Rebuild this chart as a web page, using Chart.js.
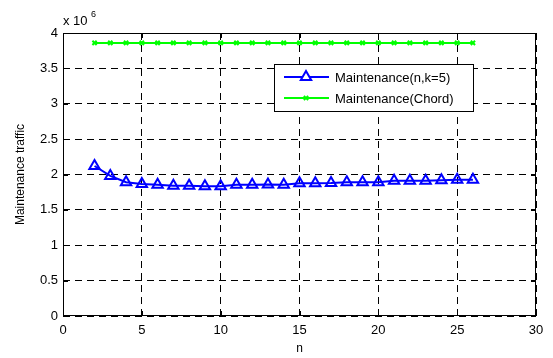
<!DOCTYPE html>
<html>
<head>
<meta charset="utf-8">
<script src="https://cdn.jsdelivr.net/npm/chart.js@4/dist/chart.umd.min.js"></script>
<style>
  html, body { margin: 0; padding: 0; background: #fff; }
  #wrap { width: 553px; height: 358px; }
</style>
</head>
<body>
<div id="wrap"><canvas id="chart" width="553" height="358"></canvas></div>
<script>
// n values and the two series (traffic, in messages)
const nValues = [2, 3, 4, 5, 6, 7, 8, 9, 10, 11, 12, 13, 14, 15, 16, 17, 18, 19, 20, 21, 22, 23, 24, 25, 26];
const maintKs = [2.12e6, 1.98e6, 1.89e6, 1.865e6, 1.855e6, 1.84e6, 1.84e6, 1.835e6, 1.835e6, 1.855e6, 1.855e6, 1.86e6, 1.855e6,
                 1.875e6, 1.875e6, 1.88e6, 1.89e6, 1.89e6, 1.89e6, 1.91e6, 1.91e6, 1.91e6, 1.92e6, 1.925e6, 1.925e6];
const maintChord = [3.86e6, 3.86e6, 3.86e6, 3.86e6, 3.86e6, 3.86e6, 3.86e6, 3.86e6, 3.86e6, 3.86e6, 3.86e6, 3.86e6, 3.86e6,
                    3.86e6, 3.86e6, 3.86e6, 3.86e6, 3.86e6, 3.86e6, 3.86e6, 3.86e6, 3.86e6, 3.86e6, 3.86e6, 3.86e6];
const xTicks = [0, 5, 10, 15, 20, 25, 30];
const yTicks = [0, 0.5e6, 1e6, 1.5e6, 2e6, 2.5e6, 3e6, 3.5e6, 4e6];

const FONT = 'Liberation Sans, Arial, Helvetica, sans-serif';

// box, inward ticks, x10^6 label and the legend in the upper right
const matlabFrame = {
    id: 'matlabFrame',
    afterDatasetsDraw(chart) {
        const ctx = chart.ctx;
        const a = chart.chartArea;
        const xs = chart.scales.x, ys = chart.scales.y;
        ctx.save();
        ctx.strokeStyle = '#000';
        ctx.lineWidth = 1;
        ctx.setLineDash([]);
        ctx.strokeRect(a.left + 0.5, a.top + 0.5, a.right - a.left - 1, a.bottom - a.top - 1);
        ctx.beginPath();
        xTicks.forEach(v => {
            const px = Math.round(xs.getPixelForValue(v)) + 0.5;
            ctx.moveTo(px, a.bottom); ctx.lineTo(px, a.bottom - 5);
            ctx.moveTo(px, a.top); ctx.lineTo(px, a.top + 5);
        });
        yTicks.forEach(v => {
            const py = Math.round(ys.getPixelForValue(v)) + 0.5;
            ctx.moveTo(a.left, py); ctx.lineTo(a.left + 5, py);
            ctx.moveTo(a.right, py); ctx.lineTo(a.right - 5, py);
        });
        ctx.stroke();

        // exponent label
        ctx.fillStyle = '#000';
        ctx.font = '13px ' + FONT;
        ctx.textBaseline = 'alphabetic';
        ctx.fillText('x 10', 63, 25);
        ctx.font = '9px ' + FONT;
        ctx.fillText('6', 91, 17);

        // legend
        const lx = 274, ly = 64, lw = 199, lh = 47;
        ctx.fillStyle = '#fff';
        ctx.fillRect(lx, ly, lw, lh);
        ctx.strokeStyle = '#000';
        ctx.strokeRect(lx + 0.5, ly + 0.5, lw, lh);
        chart.data.datasets.forEach((ds, i) => {
            const cy = ly + 13 + i * 21;
            ctx.strokeStyle = ds.borderColor;
            ctx.lineWidth = 2;
            ctx.beginPath();
            ctx.moveTo(lx + 10, cy); ctx.lineTo(lx + 55, cy);
            ctx.stroke();
            Chart.helpers.drawPoint(ctx, {
                pointStyle: ds.pointStyle, radius: ds.pointRadius,
                borderWidth: ds.borderWidth
            }, lx + 32, cy);
            ctx.fillStyle = '#000';
            ctx.font = '13px ' + FONT;
            ctx.textBaseline = 'middle';
            ctx.fillText(ds.label, lx + 61, cy + 1);
        });
        ctx.restore();
    }
};

new Chart(document.getElementById('chart'), {
    type: 'line',
    data: {
        datasets: [
            {
                label: 'Maintenance(n,k=5)',
                data: nValues.map((n, i) => ({x: n, y: maintKs[i]})),
                borderColor: '#0000ff',
                backgroundColor: 'rgba(0,0,0,0)',
                borderWidth: 2,
                pointStyle: 'triangle',
                pointRadius: 6,
                pointBorderWidth: 2,
                tension: 0
            },
            {
                label: 'Maintenance(Chord)',
                data: nValues.map((n, i) => ({x: n, y: maintChord[i]})),
                borderColor: '#00ff00',
                backgroundColor: 'rgba(0,0,0,0)',
                borderWidth: 2,
                pointStyle: 'crossRot',
                pointRadius: 3,
                pointBorderWidth: 2,
                tension: 0
            }
        ]
    },
    options: {
        responsive: false,
        animation: false,
        layout: { padding: { left: 0, right: 17, top: 33, bottom: 0 } },
        plugins: { legend: { display: false }, tooltip: { enabled: false } },
        scales: {
            x: {
                type: 'linear', min: 0, max: 30,
                afterBuildTicks: s => { s.ticks = xTicks.map(v => ({value: v})); },
                afterFit: s => { s.height = 42; },
                grid: { color: '#000', lineWidth: 1, drawTicks: false },
                border: { display: false, dash: [7, 5] },
                ticks: { color: '#000', font: { size: 13, family: FONT }, padding: 7, maxRotation: 0 },
                title: { display: true, text: 'n', color: '#000', font: { size: 12, family: FONT }, padding: { top: 0, bottom: 2 } }
            },
            y: {
                min: 0, max: 4e6,
                afterBuildTicks: s => { s.ticks = yTicks.map(v => ({value: v})); },
                afterFit: s => { s.width = 63; },
                grid: { color: '#000', lineWidth: 1, drawTicks: false },
                border: { display: false, dash: [7, 5] },
                ticks: { color: '#000', font: { size: 13, family: FONT }, padding: 5,
                         callback: v => String(v / 1e6) },
                title: { display: true, text: 'Maintenance traffic', color: '#000', font: { size: 12, family: FONT }, padding: { top: 13, bottom: 4 } }
            }
        }
    },
    plugins: [matlabFrame]
});
</script>
</body>
</html>
